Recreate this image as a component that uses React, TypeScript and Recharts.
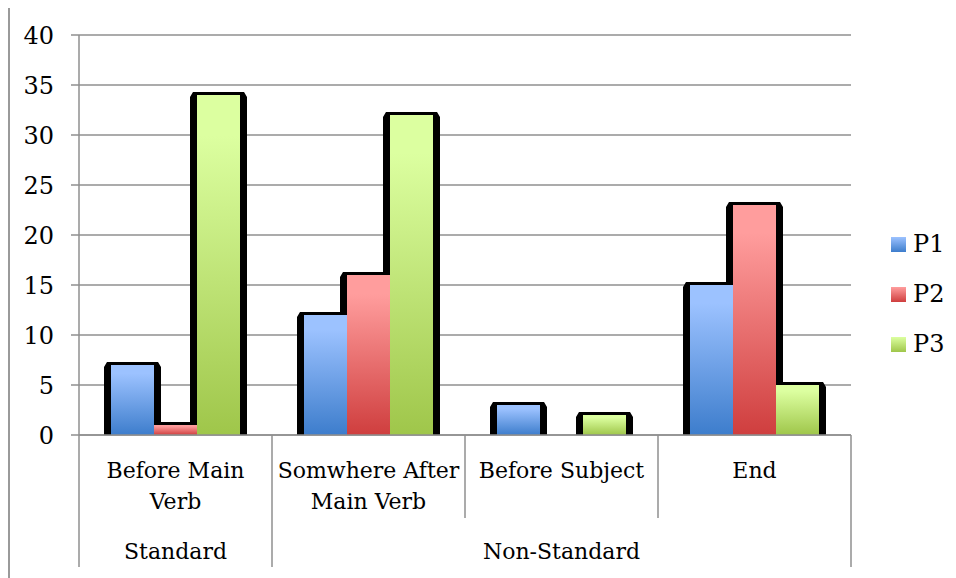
import { BarChart, Bar, XAxis, YAxis, CartesianGrid, Legend } from "recharts";

const categoryLines = [["Before Main", "Verb"], ["Somwhere After", "Main Verb"], ["Before Subject"], ["End"]];
const categories = categoryLines.map((l) => l.join(" "));
const groups = ["Standard", "Non-Standard"];
const groupSpans = [1, 3];
const seriesNames = ["P1", "P2", "P3"];
const p1 = [7, 12, 3, 15];
const p2 = [1, 16, 0, 23];
const p3 = [34, 32, 2, 5];
const yTicks = [0, 5, 10, 15, 20, 25, 30, 35, 40];

const data = categories.map((name, i) => ({ name, P1: p1[i], P2: p2[i], P3: p3[i] }));

// top / bottom colours of each series gradient
const gradients: Record<string, [string, string]> = {
    P1: ["#9cc2ff", "#3d7dcc"],
    P2: ["#ff9d9d", "#cf3e3e"],
    P3: ["#dcffa0", "#9fc64a"],
};

const FONT = "DejaVu Serif";
const FS = 22;
const FS_BIG = 24;
const GRID = "#8f8f8f";
const W = 946;
const H = 571;
const MARGIN = { top: 28, right: 23, bottom: 0, left: 9 };
const Y_W = 60;
const LEGEND_W = 82;
const PLOT_W = W - MARGIN.left - Y_W - MARGIN.right - LEGEND_W;
const CAT_W = PLOT_W / categories.length;

const groupStarts: number[] = [];
groupSpans.reduce((acc, s) => {
    groupStarts.push(acc);
    return acc + s;
}, 0);

function ShadowShape(props: any) {
    const { x, y, width, height } = props;
    if (!height || height <= 0) return null;
    const b = y + height;
    const pts = [
        [x - 7, b],
        [x - 7, y + 2],
        [x - 4, y - 3],
        [x + width + 4, y - 3],
        [x + width + 7, y + 2],
        [x + width + 7, b],
    ];
    return <polygon points={pts.map((p) => p.join(",")).join(" ")} fill="#000" />;
}

function CategoryTick(props: any) {
    const { x, y, payload } = props;
    const i = payload.index;
    const left = x - CAT_W / 2;
    const gi = groupStarts.indexOf(i);
    const last = i === categories.length - 1;
    return (
        <g>
            <line x1={left} x2={left} y1={y} y2={y + (gi >= 0 ? 132 : 83)} stroke={GRID} strokeWidth={1.5} />
            {last && <line x1={left + CAT_W} x2={left + CAT_W} y1={y} y2={y + 132} stroke={GRID} strokeWidth={1.5} />}
            {categoryLines[i].map((t, k) => (
                <text key={k} x={x} y={y + 43 + k * 31} textAnchor="middle" fontSize={FS} fontFamily={FONT} fill="#000">
                    {t}
                </text>
            ))}
            {gi >= 0 && (
                <text x={left + (groupSpans[gi] * CAT_W) / 2} y={y + 124} textAnchor="middle" fontSize={FS} fontFamily={FONT} fill="#000">
                    {groups[gi]}
                </text>
            )}
        </g>
    );
}

function LegendBox() {
    return (
        <div style={{ width: LEGEND_W, fontFamily: FONT, fontSize: FS_BIG, color: "#000" }}>
            {seriesNames.map((s) => (
                <div key={s} style={{ height: 50, display: "flex", alignItems: "center" }}>
                    <span
                        style={{
                            display: "inline-block",
                            flexShrink: 0,
                            width: 15,
                            height: 15,
                            marginLeft: 40,
                            marginRight: 7,
                            background: `linear-gradient(${gradients[s][0]}, ${gradients[s][1]})`,
                        }}
                    />
                    <span style={{ whiteSpace: "nowrap" }}>{s}</span>
                </div>
            ))}
        </div>
    );
}

export default function App() {
    return (
        <div
            style={{
                position: "relative",
                top: -3,
                width: W,
                height: H + 10,
                borderLeft: "2px solid #9a9a9a",
                borderTop: "2px solid #9a9a9a",
            }}
        >
            <BarChart width={W} height={H} data={data} margin={MARGIN} barCategoryGap={32} barGap={0}>
                <defs>
                    {seriesNames.map((s) => (
                        <linearGradient key={s} id={`grad-${s}`} x1="0" y1="0" x2="0" y2="1">
                            <stop offset="0" stopColor={gradients[s][0]} />
                            <stop offset="0.12" stopColor={gradients[s][0]} />
                            <stop offset="1" stopColor={gradients[s][1]} />
                        </linearGradient>
                    ))}
                </defs>
                <CartesianGrid vertical={false} stroke={GRID} strokeWidth={1.5} />
                <XAxis
                    dataKey="name"
                    height={H - MARGIN.top - 400}
                    interval={0}
                    tickLine={false}
                    tickSize={0}
                    tickMargin={0}
                    axisLine={{ stroke: GRID, strokeWidth: 1.5 }}
                    tick={<CategoryTick />}
                />
                <XAxis xAxisId="shadow" dataKey="name" hide />
                <YAxis
                    domain={[0, 40]}
                    ticks={yTicks}
                    interval={0}
                    width={Y_W}
                    tickSize={8}
                    tickMargin={17}
                    axisLine={{ stroke: GRID, strokeWidth: 1.5 }}
                    tickLine={{ stroke: GRID, strokeWidth: 1.5 }}
                    tick={{ fill: "#000", fontSize: FS_BIG, fontFamily: FONT }}
                />
                <Legend
                    layout="vertical"
                    align="right"
                    verticalAlign="middle"
                    content={<LegendBox />}
                    wrapperStyle={{ width: LEGEND_W, top: 212 }}
                />
                {seriesNames.map((s) => (
                    <Bar
                        key={`sh-${s}`}
                        xAxisId="shadow"
                        dataKey={s}
                        shape={<ShadowShape />}
                        legendType="none"
                        isAnimationActive={false}
                    />
                ))}
                {seriesNames.map((s) => (
                    <Bar key={s} dataKey={s} fill={`url(#grad-${s})`} isAnimationActive={false} />
                ))}
            </BarChart>
        </div>
    );
}
